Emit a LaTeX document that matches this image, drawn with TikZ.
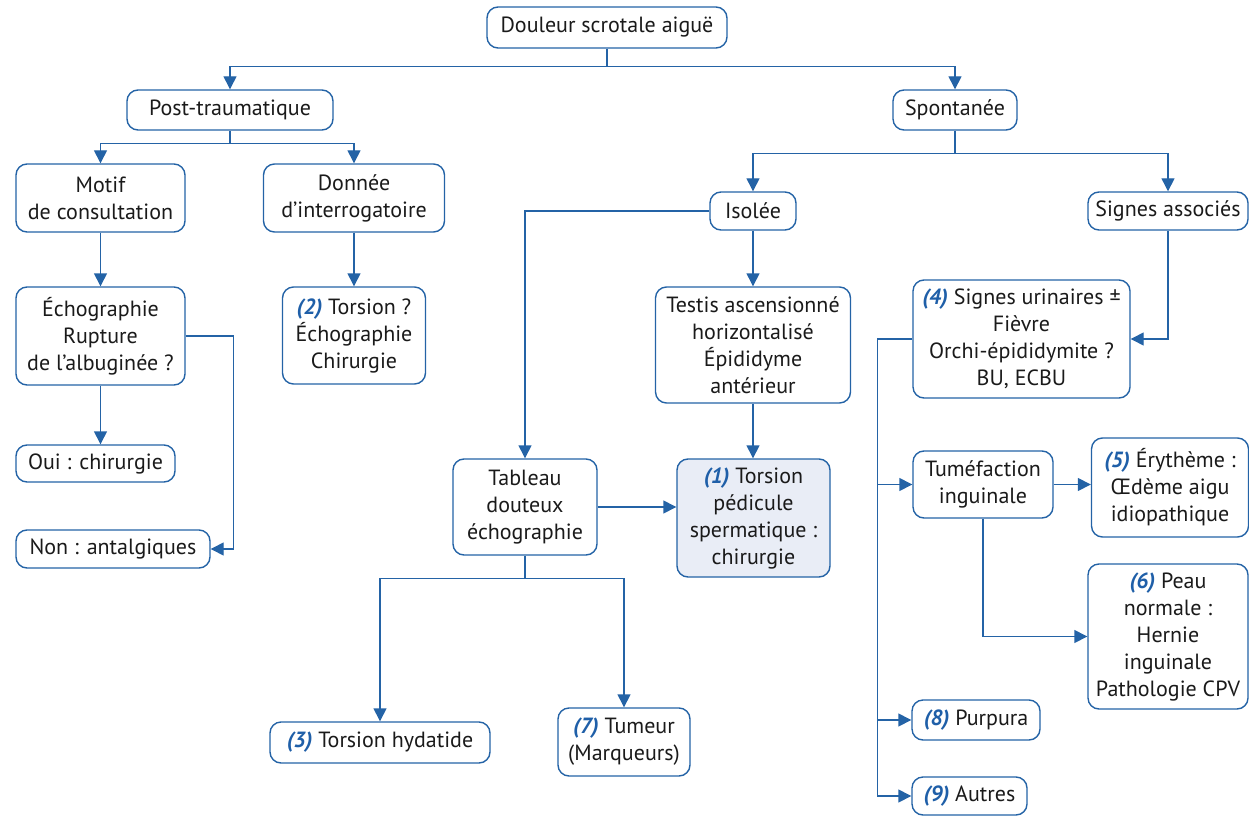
\documentclass[tikz,border=0pt]{standalone}
\usepackage{fontspec}
\setmainfont{PT Sans}
\usetikzlibrary{arrows.meta}
\definecolor{ln}{HTML}{2463A6}
\definecolor{num}{HTML}{1F5FA8}
\definecolor{fillb}{HTML}{E9EDF6}
\definecolor{txt}{HTML}{1A1A1A}
\newcommand{\nm}[1]{{\color{num}\bfseries\itshape(#1)}}
\begin{document}
\begin{tikzpicture}[x=1pt,y=-1pt,
  box/.style={draw=ln, line width=1.4pt, rounded corners=11pt, inner sep=0pt, align=center,
    font=\fontsize{22}{27}\selectfont, text=txt},
  conn/.style={draw=ln, line width=1.4pt},
  arr/.style={conn, -{Triangle[length=13pt,width=13pt]}}]
\useasboundingbox (0,0) rectangle (1249,818);

\node[box, minimum width=240pt, minimum height=41pt] (root) at (607,27.5) {Douleur scrotale aiguë};
\node[box, minimum width=206pt, minimum height=40pt] (post) at (230,110) {Post-traumatique};
\node[box, minimum width=124pt, minimum height=40pt] (spon) at (955,110) {Spontanée};
\node[box, minimum width=169pt, minimum height=68pt] (motif) at (100.5,198) {Motif\\de consultation};
\node[box, minimum width=181pt, minimum height=68pt] (donnee) at (354,198) {Donnée\\d’interrogatoire};
\node[box, minimum width=143pt, minimum height=97pt] (tor2) at (354,335.5) {\nm{2} Torsion ?\\Échographie\\Chirurgie};
\node[box, minimum width=169pt, minimum height=98pt] (echo) at (100.5,336) {Échographie\\Rupture\\de l’albuginée ?};
\node[box, minimum width=159pt, minimum height=37pt] (oui) at (95.5,463.5) {Oui : chirurgie};
\node[box, minimum width=194pt, minimum height=38pt] (non) at (113,549) {Non : antalgiques};
\node[box, minimum width=86pt, minimum height=38pt] (isolee) at (753,211) {Isolée};
\node[box, minimum width=160pt, minimum height=38pt] (signes) at (1168,211) {Signes associés};
\node[box, minimum width=195pt, minimum height=116pt] (testis) at (753,345) {Testis ascensionné\\horizontalisé\\Épididyme\\antérieur};
\node[box, fill=fillb, minimum width=153pt, minimum height=118pt] (t1) at (753.5,518) {\nm{1} Torsion\\pédicule\\spermatique :\\chirurgie};
\node[box, minimum width=144pt, minimum height=96pt] (tableau) at (525,507) {Tableau\\douteux\\échographie};
\node[box, minimum width=220pt, minimum height=41pt] (t3) at (380,742.5) {\nm{3} Torsion hydatide};
\node[box, minimum width=132pt, minimum height=68pt] (t7) at (624,742) {\nm{7} Tumeur\\(Marqueurs)};
\node[box, minimum width=217pt, minimum height=118pt] (s4) at (1021.5,339) {\nm{4} Signes urinaires ±\\Fièvre\\Orchi-épididymite ?\\BU, ECBU};
\node[box, minimum width=140pt, minimum height=67pt] (tum) at (983,484.5) {Tuméfaction\\inguinale};
\node[box, minimum width=157pt, minimum height=99pt] (s5) at (1170,487.5) {\nm{5} Érythème :\\Œdème aigu\\idiopathique};
\node[box, minimum width=160pt, minimum height=145pt] (s6) at (1168,636.5) {\nm{6} Peau\\normale :\\Hernie\\inguinale\\Pathologie CPV};
\node[box, minimum width=128pt, minimum height=40pt] (s8) at (976,720) {\nm{8} Purpura};
\node[box, minimum width=115pt, minimum height=38pt] (s9) at (969.5,796) {\nm{9} Autres};

% connectors
\draw[conn] (root.south) -- ++(0,18) coordinate (j0);
\draw[arr] (j0) -| (post.north);
\draw[arr] (j0) -| (spon.north);
\draw[conn] (post.south) -- ++(0,13) coordinate (j1);
\draw[arr] (j1) -| (motif.north);
\draw[arr] (j1) -| (donnee.north);
\draw[arr] (motif.south) -- (echo.north);
\draw[arr] (donnee.south) -- (tor2.north);
\draw[arr] (echo.south) -- (echo.south |- oui.north);
\draw[arr] (echo.east) -- ++(48,0) |- (non.east);
\draw[conn] (spon.south) -- ++(0,23) coordinate (j2);
\draw[arr] (j2) -| (isolee.north);
\draw[arr] (j2) -| (signes.north);
\draw[arr] (isolee.west) -| (tableau.north);
\draw[arr] (isolee.south) -- (testis.north);
\draw[arr] (testis.south) -- (testis.south |- t1.north);
\draw[arr] (tableau.east) -- (t1.west |- tableau.east);
\draw[conn] (tableau.south) -- ++(0,23) coordinate (j3);
\draw[arr] (j3) -| (t3.north);
\draw[arr] (j3) -| (t7.north);
\draw[arr] (signes.south) |- (s4.east);
\draw[conn] (s4.west) -- ++(-35,0) coordinate (v) -- (v |- s9.west);
\draw[arr] (v |- tum.west) -- (tum.west);
\draw[arr] (v |- s8.west) -- (s8.west);
\draw[arr] (v |- s9.west) -- (s9.west);
\draw[arr] (tum.east) -- (s5.west |- tum.east);
\draw[arr] (tum.south) |- (s6.west);
\end{tikzpicture}
\end{document}
